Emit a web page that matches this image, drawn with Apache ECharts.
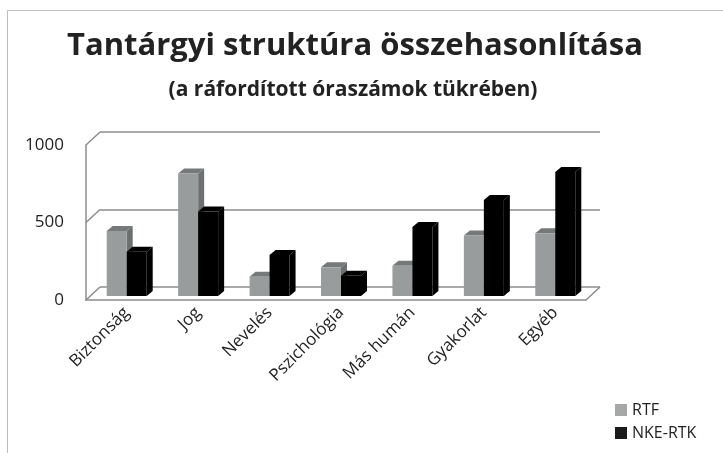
<!DOCTYPE html>
<html>
<head>
<meta charset="utf-8">
<script src="https://cdn.jsdelivr.net/npm/echarts@6/dist/echarts.min.js"></script>
<style>
  html, body { margin: 0; padding: 0; background: #fff; }
  #main { width: 723px; height: 453px; }
</style>
</head>
<body>
<div id="main"></div>
<script>
// adatok
const categories = ['Biztonság', 'Jog', 'Nevelés', 'Pszichológia', 'Más humán', 'Gyakorlat', 'Egyéb']
const rtfValues = [420, 790, 125, 185, 195, 390, 405]
const nkeValues = [285, 545, 265, 130, 445, 620, 800]
const yTicks = [0, 500, 1000]

const FONT = '"Open Sans", Lato, sans-serif'
const lineCol = '#8c8c8c'
// melyseg (3D hatas)
const barDx = 6
const barDy = -5
const wallDx = 14
const wallDy = -13

function barItem(side, colors) {
  return function (params, api) {
    const idx = api.value(0)
    const val = api.value(1)
    const base = api.coord([idx, 0])
    const top = api.coord([idx, val])
    const w = 20
    const x = side === 0 ? base[0] - w : base[0]
    const yB = base[1]
    const yT = top[1]
    return {
      type: 'group',
      children: [
        {
          type: 'polygon',
          shape: { points: [[x + w, yT], [x + w + barDx, yT + barDy], [x + w + barDx, yB + barDy], [x + w, yB]] },
          style: { fill: colors.side }
        },
        {
          type: 'polygon',
          shape: { points: [[x, yT], [x + barDx, yT + barDy], [x + w + barDx, yT + barDy], [x + w, yT]] },
          style: { fill: colors.top }
        },
        {
          type: 'rect',
          shape: { x: x, y: yT, width: w, height: yB - yT },
          style: { fill: colors.front }
        }
      ]
    }
  }
}

// bal fal es padlo ferde vonalai
function wallItem(params, api) {
  const cs = params.coordSys
  const children = []
  yTicks.forEach(v => {
    const y = api.coord([0, v])[1]
    children.push({
      type: 'line',
      shape: { x1: cs.x, y1: y, x2: cs.x + wallDx, y2: y + wallDy },
      style: { stroke: lineCol, lineWidth: 1.5 }
    })
  })
  const y0 = api.coord([0, 0])[1]
  children.push({
    type: 'line',
    shape: { x1: cs.x + cs.width, y1: y0, x2: cs.x + cs.width + wallDx, y2: y0 + wallDy },
    style: { stroke: lineCol, lineWidth: 1.5 }
  })
  return { type: 'group', children: children }
}

const myChart = echarts.init(document.getElementById('main'))
const option = {
  backgroundColor: '#fff',
  animation: false,
  graphic: [
    {
      type: 'rect',
      shape: { x: 7.5, y: 10.5, width: 740, height: 460 },
      style: { fill: 'none', stroke: '#bdbdbd', lineWidth: 1 },
      silent: true
    },
    {
      type: 'text',
      x: 355, y: 46,
      style: {
        text: 'Tantárgyi struktúra összehasonlítása',
        font: 'bold 31px ' + FONT,
        fill: '#222',
        textAlign: 'center',
        textVerticalAlign: 'middle'
      }
    },
    {
      type: 'text',
      x: 353, y: 90,
      style: {
        text: '(a ráfordított óraszámok tükrében)',
        font: 'bold 21px ' + FONT,
        fill: '#222',
        textAlign: 'center',
        textVerticalAlign: 'middle'
      }
    }
  ],
  legend: {
    orient: 'vertical',
    left: 610,
    top: 397,
    itemWidth: 12,
    itemHeight: 12,
    itemGap: 7,
    icon: 'rect',
    textStyle: { fontFamily: FONT, fontSize: 16, color: '#222' },
    data: ['RTF', 'NKE-RTK']
  },
  grid: [
    // elulso sik
    { left: 86, right: 137, top: 145, bottom: 153 },
    // oszlopok sikja
    { left: 91, right: 132, top: 141, bottom: 157 },
    // hatso fal
    { left: 100, right: 123, top: 132, bottom: 166 }
  ],
  xAxis: [
    {
      gridIndex: 0,
      type: 'category',
      data: categories,
      axisLine: { show: true, lineStyle: { color: lineCol, width: 1.5 } },
      axisTick: { show: false },
      axisLabel: { show: false }
    },
    {
      gridIndex: 1,
      type: 'category',
      data: categories,
      axisLine: { show: false },
      axisTick: { show: false },
      axisLabel: {
        rotate: 45,
        margin: 14,
        interval: 0,
        fontFamily: FONT,
        fontSize: 17,
        color: '#222'
      }
    },
    {
      gridIndex: 2,
      type: 'category',
      data: categories,
      show: false
    }
  ],
  yAxis: [
    {
      gridIndex: 0,
      type: 'value',
      min: 0,
      max: 1000,
      interval: 500,
      axisLine: { show: true, lineStyle: { color: lineCol, width: 1.5 } },
      axisTick: { show: false },
      splitLine: { show: false },
      axisLabel: {
        margin: 22,
        fontFamily: FONT,
        fontSize: 17,
        color: '#222',
        formatter: v => String(v)
      }
    },
    {
      gridIndex: 1,
      type: 'value',
      min: 0,
      max: 1000,
      interval: 500,
      show: false,
      splitLine: { show: false }
    },
    {
      gridIndex: 2,
      type: 'value',
      min: 0,
      max: 1000,
      interval: 500,
      axisLine: { show: false },
      axisTick: { show: false },
      axisLabel: { show: false },
      splitLine: { show: true, lineStyle: { color: lineCol, width: 1.5 } }
    }
  ],
  series: [
    {
      type: 'custom',
      xAxisIndex: 0,
      yAxisIndex: 0,
      silent: true,
      data: [[0, 0]],
      renderItem: wallItem,
      z: 1
    },
    {
      name: 'RTF',
      type: 'custom',
      xAxisIndex: 1,
      yAxisIndex: 1,
      itemStyle: { color: '#a6a8a8' },
      encode: { x: 0, y: 1 },
      data: rtfValues.map((v, i) => [i, v]),
      renderItem: barItem(0, { front: '#999c9c', side: '#6d7070', top: '#767979' }),
      z: 3
    },
    {
      name: 'NKE-RTK',
      type: 'custom',
      xAxisIndex: 1,
      yAxisIndex: 1,
      itemStyle: { color: '#1a1a1a' },
      encode: { x: 0, y: 1 },
      data: nkeValues.map((v, i) => [i, v]),
      renderItem: barItem(1, { front: '#000', side: '#000', top: '#000' }),
      z: 4
    }
  ]
}
myChart.setOption(option)
</script>
</body>
</html>
